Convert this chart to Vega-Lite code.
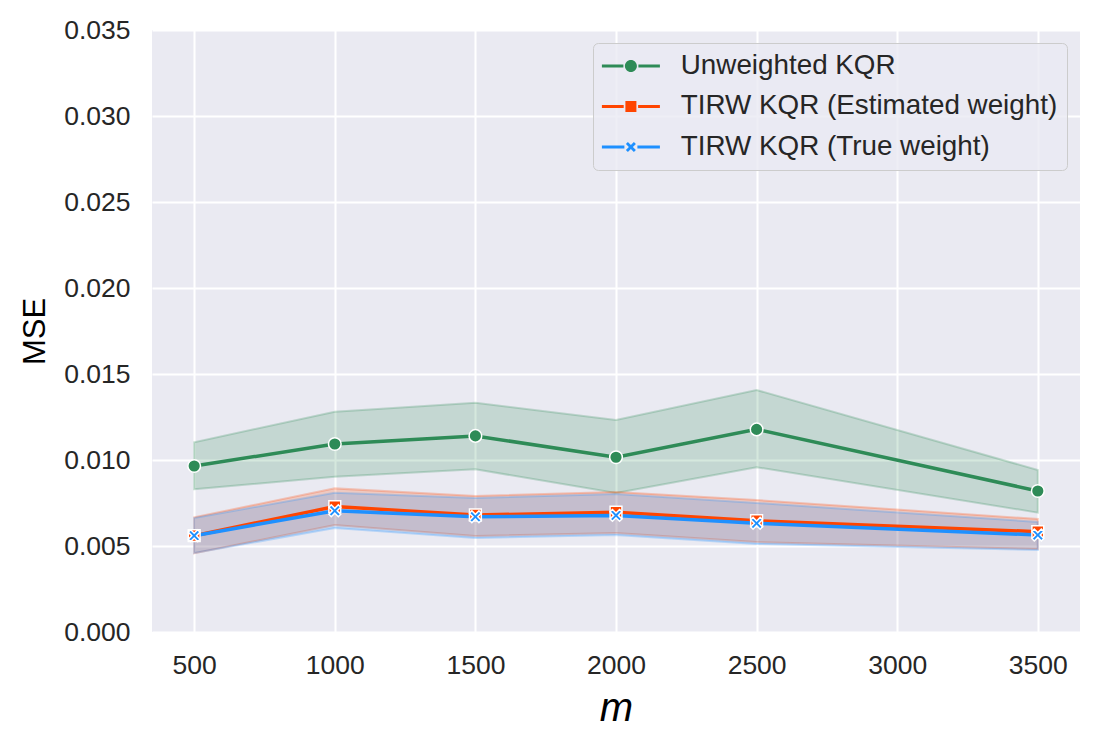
{
  "$schema": "https://vega.github.io/schema/vega-lite/v6.json",
  "autosize": "none",
  "width": 928,
  "height": 602,
  "padding": {"left": 152, "top": 30, "right": 21, "bottom": 116},
  "background": "white",
  "data": {
    "values": [
      {"m": 500, "series": "Unweighted KQR", "mse": 0.00965, "lo": 0.00830, "hi": 0.01103},
      {"m": 1000, "series": "Unweighted KQR", "mse": 0.01093, "lo": 0.00903, "hi": 0.01281},
      {"m": 1500, "series": "Unweighted KQR", "mse": 0.01140, "lo": 0.00946, "hi": 0.01333},
      {"m": 2000, "series": "Unweighted KQR", "mse": 0.01016, "lo": 0.00808, "hi": 0.01233},
      {"m": 2500, "series": "Unweighted KQR", "mse": 0.01178, "lo": 0.00958, "hi": 0.01407},
      {"m": 3500, "series": "Unweighted KQR", "mse": 0.00820, "lo": 0.00694, "hi": 0.00942},
      {"m": 500, "series": "TIRW KQR (Estimated weight)", "mse": 0.00560, "lo": 0.00458, "hi": 0.00667},
      {"m": 1000, "series": "TIRW KQR (Estimated weight)", "mse": 0.00729, "lo": 0.00622, "hi": 0.00835},
      {"m": 1500, "series": "TIRW KQR (Estimated weight)", "mse": 0.00680, "lo": 0.00558, "hi": 0.00791},
      {"m": 2000, "series": "TIRW KQR (Estimated weight)", "mse": 0.00696, "lo": 0.00576, "hi": 0.00814},
      {"m": 2500, "series": "TIRW KQR (Estimated weight)", "mse": 0.00647, "lo": 0.00523, "hi": 0.00767},
      {"m": 3500, "series": "TIRW KQR (Estimated weight)", "mse": 0.00583, "lo": 0.00483, "hi": 0.00657},
      {"m": 500, "series": "TIRW KQR (True weight)", "mse": 0.00560, "lo": 0.00459, "hi": 0.00663},
      {"m": 1000, "series": "TIRW KQR (True weight)", "mse": 0.00705, "lo": 0.00605, "hi": 0.00810},
      {"m": 1500, "series": "TIRW KQR (True weight)", "mse": 0.00670, "lo": 0.00547, "hi": 0.00779},
      {"m": 2000, "series": "TIRW KQR (True weight)", "mse": 0.00678, "lo": 0.00564, "hi": 0.00802},
      {"m": 2500, "series": "TIRW KQR (True weight)", "mse": 0.00632, "lo": 0.00512, "hi": 0.00750},
      {"m": 3500, "series": "TIRW KQR (True weight)", "mse": 0.00564, "lo": 0.00477, "hi": 0.00640}
    ]
  },
  "encoding": {
    "x": {
      "field": "m",
      "type": "quantitative",
      "scale": {"domain": [350, 3650], "nice": false, "zero": false},
      "axis": {
        "values": [500, 1000, 1500, 2000, 2500, 3000, 3500],
        "format": "d",
        "title": "m",
        "titleFontStyle": "italic",
        "titleFontSize": 40,
        "titleFontWeight": "normal",
        "titlePadding": 10,
        "labelPadding": 20
      }
    }
  },
  "layer": [
    {
      "mark": {"type": "area", "fillOpacity": 0.2, "strokeOpacity": 0.25, "strokeWidth": 2},
      "encoding": {
        "y": {
          "field": "lo",
          "type": "quantitative",
          "scale": {"domain": [0, 0.035], "nice": false},
          "axis": {
            "values": [0, 0.005, 0.01, 0.015, 0.02, 0.025, 0.03, 0.035],
            "format": ".3f",
            "title": "MSE",
            "titleFontSize": 31,
            "titlePadding": 12,
            "labelPadding": 22
          }
        },
        "y2": {"field": "hi"},
        "color": {
          "field": "series",
          "type": "nominal",
          "scale": {"domain": ["Unweighted KQR", "TIRW KQR (Estimated weight)", "TIRW KQR (True weight)"], "range": ["#2E8B57", "#FF4500", "#1E90FF"]},
          "legend": {
            "title": null,
            "orient": "top-right",
            "offset": 13,
            "fillColor": "rgba(234,234,242,0.8)",
            "strokeColor": "#cccccc",
            "padding": 9,
            "cornerRadius": 5,
            "labelFont": "Liberation Sans",
            "labelFontSize": 27.8,
            "labelColor": "#262626",
            "labelLimit": 600,
            "symbolSize": 400,
            "symbolOffset": 15,
            "labelOffset": 36,
            "rowPadding": 11.5,
            "encode": {
              "symbols": {
                "update": {
                  "shape": {"signal": "datum.value == 'Unweighted KQR' ? 'M-2.9,-0.15H-0.75V0.15H-2.9Z M0.75,-0.15H2.9V0.15H0.75Z M-0.6,0A0.6,0.6,0,1,0,0.6,0A0.6,0.6,0,1,0,-0.6,0Z' : datum.value == 'TIRW KQR (Estimated weight)' ? 'M-2.9,-0.15H-0.72V0.15H-2.9Z M0.72,-0.15H2.9V0.15H0.72Z M-0.55,-0.55H0.55V0.55H-0.55Z' : 'M-2.9,-0.15H-0.65V0.15H-2.9Z M0.65,-0.15H2.9V0.15H0.65Z M-0.5,-0.3L-0.3,-0.5L0,-0.2L0.3,-0.5L0.5,-0.3L0.2,0L0.5,0.3L0.3,0.5L0,0.2L-0.3,0.5L-0.5,0.3L-0.2,0Z'"},
                  "fill": {"signal": "scale('color', datum.value)"},
                  "fillOpacity": {"value": 1},
                  "opacity": {"value": 1},
                  "strokeWidth": {"value": 0},
                  "size": {"value": 400}
                }
              }
            }
          }
        },
        "stroke": {
          "field": "series",
          "type": "nominal",
          "legend": null,
          "scale": {"domain": ["Unweighted KQR", "TIRW KQR (Estimated weight)", "TIRW KQR (True weight)"], "range": ["#2E8B57", "#FF4500", "#1E90FF"]}
        }
      }
    },
    {
      "mark": {"type": "line", "strokeWidth": 3.5},
      "encoding": {
        "y": {"field": "mse", "type": "quantitative"},
        "color": {"field": "series", "type": "nominal"}
      }
    },
    {
      "transform": [{"filter": "datum.series == 'Unweighted KQR'"}],
      "mark": {"type": "point", "shape": "circle", "filled": true, "opacity": 1, "stroke": "white", "strokeWidth": 1.5, "size": 160},
      "encoding": {
        "y": {"field": "mse", "type": "quantitative"},
        "color": {"field": "series", "type": "nominal"}
      }
    },
    {
      "transform": [{"filter": "datum.series == 'TIRW KQR (Estimated weight)'"}],
      "mark": {"type": "point", "shape": "square", "filled": true, "opacity": 1, "stroke": "white", "strokeWidth": 1.5, "size": 140},
      "encoding": {
        "y": {"field": "mse", "type": "quantitative"},
        "color": {"field": "series", "type": "nominal"}
      }
    },
    {
      "transform": [{"filter": "datum.series == 'TIRW KQR (True weight)'"}],
      "mark": {"type": "point", "shape": "M-1,-0.6L-0.6,-1L0,-0.4L0.6,-1L1,-0.6L0.4,0L1,0.6L0.6,1L0,0.4L-0.6,1L-1,0.6L-0.4,0Z", "filled": true, "opacity": 1, "stroke": "white", "strokeWidth": 1.5, "size": 140},
      "encoding": {
        "y": {"field": "mse", "type": "quantitative"},
        "color": {"field": "series", "type": "nominal"}
      }
    }
  ],
  "config": {
    "view": {"stroke": null, "fill": "#EAEAF2"},
    "font": "Liberation Sans",
    "axis": {
      "grid": true,
      "gridColor": "white",
      "gridWidth": 2,
      "gridOpacity": 1,
      "domain": false,
      "ticks": false,
      "labelFont": "Liberation Sans",
      "labelFontSize": 26.5,
      "labelColor": "#262626",
      "titleFont": "Liberation Sans",
      "titleColor": "black",
      "titleFontWeight": "normal"
    }
  }
}
